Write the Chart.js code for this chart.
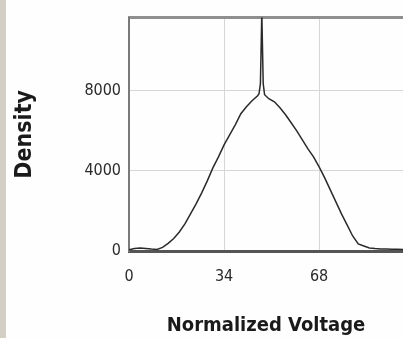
<!DOCTYPE html>
<html>
<head>
<meta charset="utf-8">
<script src="https://cdn.jsdelivr.net/npm/chart.js@4/dist/chart.umd.min.js"></script>
<style>
  html, body { margin: 0; padding: 0; background: #ffffff; overflow: hidden; }
  #wrap { width: 397px; height: 338px; border-left: 6px solid #d3cfc5; background: #fefefe; }
  canvas { display: block; }
</style>
</head>
<body>
<div id="wrap"><canvas id="c" width="397" height="338"></canvas></div>
<script>
// Normalized voltage (x) and density (y)
const voltage = [0, 2, 4, 6, 8, 10, 12, 14, 16, 18, 20, 22, 24, 26, 28, 30, 32, 34, 36, 38, 40, 42, 44, 46, 46.5, 47, 47.5, 48, 48.5, 50, 52, 54, 56, 58, 60, 62, 64, 66, 68, 70, 72, 74, 76, 78, 80, 82, 84, 86, 88, 90, 92, 94, 96, 98];
const density = [60, 120, 150, 130, 100, 80, 180, 380, 620, 950, 1350, 1850, 2350, 2900, 3500, 4150, 4700, 5300, 5800, 6300, 6850, 7200, 7500, 7750, 7850, 8350, 11900, 8350, 7800, 7600, 7450, 7150, 6800, 6400, 6000, 5550, 5100, 4700, 4200, 3650, 3050, 2450, 1850, 1300, 750, 350, 250, 150, 120, 100, 100, 90, 90, 80];
const xTicks = [0, 34, 68];
const yTicks = [0, 4000, 8000];
const xTitle = 'Normalized Voltage';
const yTitle = 'Density';

const tickFont = { family: "'DejaVu Sans Condensed', 'Liberation Sans Narrow', 'DejaVu Sans', sans-serif", size: 16 };
const titleFontFamily = "'DejaVu Sans Condensed', 'DejaVu Sans', sans-serif";

new Chart(document.getElementById('c'), {
  type: 'line',
  data: {
    datasets: [{
      data: voltage.map((v, i) => ({ x: v, y: density[i] })),
      borderColor: '#2a2a2a',
      borderWidth: 1.5,
      pointRadius: 0,
      tension: 0,
      fill: false
    }]
  },
  options: {
    responsive: false,
    animation: false,
    devicePixelRatio: 1,
    layout: { padding: { top: 14, right: 0, bottom: 0, left: 0 } },
    plugins: { legend: { display: false }, tooltip: { enabled: false } },
    scales: {
      x: {
        type: 'linear',
        position: 'bottom',
        min: 0,
        max: 98,
        afterBuildTicks: s => { s.ticks = xTicks.map(v => ({ value: v })); },
        afterFit: s => { s.height = 87; },
        grid: { color: '#d6d6d6', lineWidth: 1, drawTicks: false },
        border: { color: '#555555', width: 3 },
        ticks: { font: tickFont, color: '#2a2a2a', padding: 16, maxRotation: 0, autoSkip: false, callback: v => String(v) },
        title: { display: true, text: xTitle, color: '#1a1a1a', font: { family: titleFontFamily, size: 20, weight: 'bold' }, padding: { top: 0, bottom: 0 } }
      },
      xTop: {
        type: 'linear',
        position: 'top',
        min: 0,
        max: 98,
        afterFit: s => { s.height = 0; },
        grid: { display: false, drawTicks: false },
        border: { color: '#8f8f8f', width: 3 },
        ticks: { display: false }
      },
      y: {
        type: 'linear',
        min: 0,
        max: 11650,
        afterBuildTicks: s => { s.ticks = yTicks.map(v => ({ value: v })); },
        afterFit: s => { s.width = 123; },
        grid: { color: '#d6d6d6', lineWidth: 1, drawTicks: false },
        border: { color: '#7a7a7a', width: 2 },
        ticks: { font: tickFont, color: '#2a2a2a', padding: 8, callback: v => String(v) },
        title: { display: true, text: yTitle, color: '#1a1a1a', font: { family: titleFontFamily, size: 23, weight: 'bold' }, padding: { top: 5, bottom: 0 } }
      }
    }
  }
});
</script>
</body>
</html>
